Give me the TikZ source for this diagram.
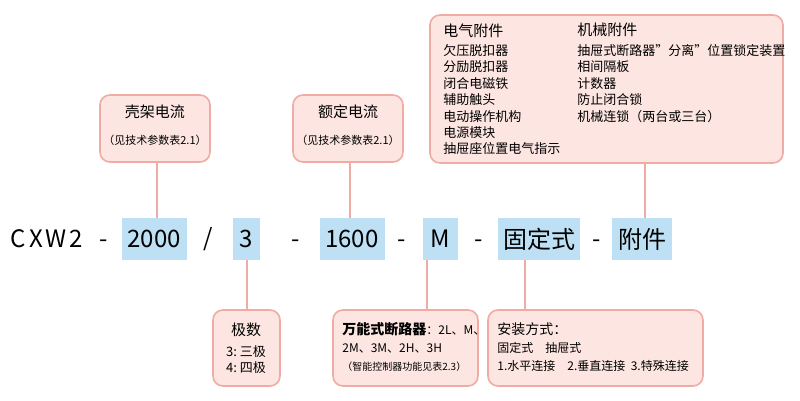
\documentclass[tikz,border=0pt]{standalone}
\usepackage{fontspec}
\setmainfont{Noto Sans CJK SC}
\begin{document}
\begin{tikzpicture}[x=0.5pt,y=-0.5pt,
  pbox/.style={draw=pinkline,fill=pinkfill,line width=0.8pt,rounded corners=5pt,inner sep=0pt},
  bbox/.style={fill=bluefill,minimum height=21pt,inner sep=0pt,font=\fontsize{12}{14}\selectfont},
  code/.style={font=\fontsize{12}{14}\selectfont},
  conn/.style={draw=pinkline,line width=0.7pt},
  sm/.style={font=\fontsize{6.5}{8.2}\selectfont,align=left,anchor=north west,inner sep=0pt}]
\definecolor{pinkfill}{HTML}{FDE6E1}
\definecolor{pinkline}{HTML}{F0ACA4}
\definecolor{bluefill}{HTML}{BEE0F4}
\useasboundingbox[fill=white] (0,0) rectangle (800,401);
% top boxes
\draw[pbox] (100,95) rectangle (210,162);
\node[font=\fontsize{7.5}{9}\selectfont] (t1) at (155,112) {壳架电流};
\node[font=\fontsize{5.5}{7}\selectfont] (t1b) at (155,140) {（见技术参数表2.1）};
\draw[pbox] (293,95) rectangle (403,162);
\node[font=\fontsize{7.5}{9}\selectfont] (t2) at (348,112) {额定电流};
\node[font=\fontsize{5.5}{7}\selectfont] (t2b) at (348,140) {（见技术参数表2.1）};
\draw[pbox] (430,15) rectangle (783,163);
\node[sm,font=\fontsize{7.5}{9}\selectfont] (ea) at (443,23) {电气附件};
\node[sm] (eb) at (443,44) {欠压脱扣器\\分励脱扣器\\闭合电磁铁\\辅助触头\\电动操作机构\\电源模块\\抽屉座位置电气指示};
\node[sm,font=\fontsize{7.5}{9}\selectfont] (ma) at (577,23) {机械附件};
\node[sm] (mb) at (577,44) {抽屉式断路器"分离"位置锁定装置\\相间隔板\\计数器\\防止闭合锁\\机械连锁（两台或三台）};
% code row
\node[code] (c0) at (47,239) {C\kern1.5pt X\kern1.5pt W\kern1.5pt 2};
\node[code] (d1) at (104,244) {-};
\node[bbox,minimum width=32.5pt] (c1) at (154,239) {2000};
\node[code] (d2) at (208,239) {/};
\node[bbox,minimum width=13.5pt] (c2) at (246,239) {3};
\node[code] (d3) at (296,244) {-};
\node[bbox,minimum width=32.5pt] (c3) at (352,239) {1600};
\node[code] (d4) at (402,244) {-};
\node[bbox,minimum width=17.5pt] (c4) at (440,239) {M};
\node[code] (d5) at (479,244) {-};
\node[bbox,minimum width=41pt] (c5) at (539,239) {固定式};
\node[code] (d6) at (597,244) {-};
\node[bbox,minimum width=30pt] (c6) at (642,239) {附件};
% bottom boxes
\draw[pbox] (213,310) rectangle (280,386);
\node[font=\fontsize{7.5}{9}\selectfont] (b1) at (246,330) {极数};
\node[font=\fontsize{6.5}{8}\selectfont,align=left] (b1b) at (246,360) {3:\ 三极\\4:\ 四极};
\draw[pbox] (333,310) rectangle (478,386);
\node[sm,font=\fontsize{6}{8}\selectfont] (b2) at (342,322) {{\fontsize{7}{8}\selectfont\textbf{万能式断路器}}：2L、M、\\[1pt]2M、3M、2H、3H\\[1pt]{\fontsize{5}{7}\selectfont（智能控制器功能见表2.3）}};
\draw[pbox] (488,310) rectangle (703,386);
\node[sm,font=\fontsize{6}{8}\selectfont] (b3) at (497,322) {{\fontsize{7}{8}\selectfont 安装方式：}\\[1pt]固定式\quad 抽屉式\\[1pt]1.水平连接\quad 2.垂直连接\ \ 3.特殊连接};
% connectors
\draw[conn] (157,162) -- (c1.north -| 157,0);
\draw[conn] (350,162) -- (c3.north -| 350,0);
\draw[conn] (645,163) -- (c6.north -| 645,0);
\draw[conn] (c2.south -| 247,0) -- (247,310);
\draw[conn] (c4.south -| 427,0) -- (427,310);
\draw[conn] (c5.south -| 525,0) -- (525,310);
\end{tikzpicture}
\end{document}
